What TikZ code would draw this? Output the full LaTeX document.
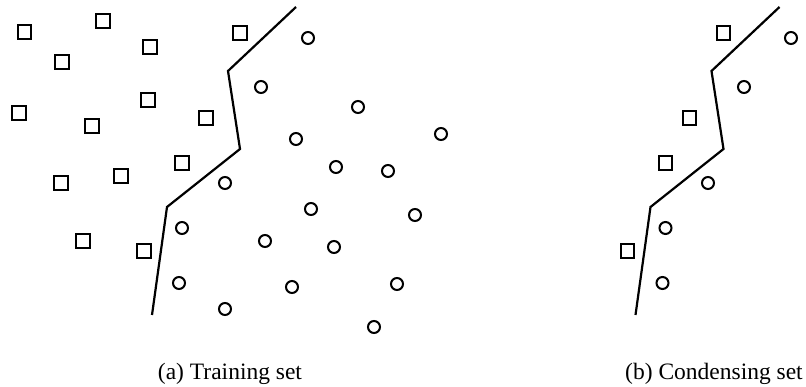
\documentclass[tikz,border=0pt]{standalone}
\usepackage{fontspec}
\setmainfont{Liberation Serif}
\begin{document}
\begin{tikzpicture}[x=1pt,y=-1pt,
  sq/.style={draw=black,line width=2pt,rectangle,minimum size=13.5pt,inner sep=0pt},
  cir/.style={draw=black,line width=2pt,circle,minimum size=12pt,inner sep=0pt},
  boundary/.style={draw=black,line width=2.2pt,line join=miter},
  captext/.style={font=\fontsize{23.5}{28}\selectfont,anchor=base,inner sep=0pt}]
\useasboundingbox (0,0) rectangle (806,387);
% (a) squares
\foreach \x/\y [count=\i] in {24.7/32,103/21,150/47,240/33,62/62,19/113,148/100,92/126,206/118,61/183,121/176,182/163,83/241,144/251}
  \node[sq] (sa\i) at (\x,\y) {};
% (a) circles
\foreach \x/\y [count=\i] in {308/38,261/87,358/107,296/139,441/134,336/167,388/171,225/183,311/209,415/215,182/228,265/241,334/247,179/283,292/287,397/284,225/309,374/327}
  \node[cir] (ca\i) at (\x,\y) {};
% (a) boundary
\coordinate (a1) at (296,7);
\coordinate (a2) at (228,71);
\coordinate (a3) at (240,149);
\coordinate (a4) at (167,207);
\coordinate (a5) at (152,315);
\draw[boundary] (a1) -- (a2) -- (a3) -- (a4) -- (a5);
% (b) squares
\foreach \x/\y [count=\i] in {723.5/33,689.5/118,665.5/163,627.5/251}
  \node[sq] (sb\i) at (\x,\y) {};
% (b) circles
\foreach \x/\y [count=\i] in {791/38,744/87,708/183,665.5/228,662.5/283}
  \node[cir] (cb\i) at (\x,\y) {};
% (b) boundary
\coordinate (b1) at (779.5,7);
\coordinate (b2) at (711.5,71);
\coordinate (b3) at (723.5,149);
\coordinate (b4) at (650.5,207);
\coordinate (b5) at (635.5,315);
\draw[boundary] (b1) -- (b2) -- (b3) -- (b4) -- (b5);
% captions
\node[captext] (capa) at (230,379) {(a) Training set};
\node[captext] (capb) at (714,379) {(b) Condensing set};
\end{tikzpicture}
\end{document}
